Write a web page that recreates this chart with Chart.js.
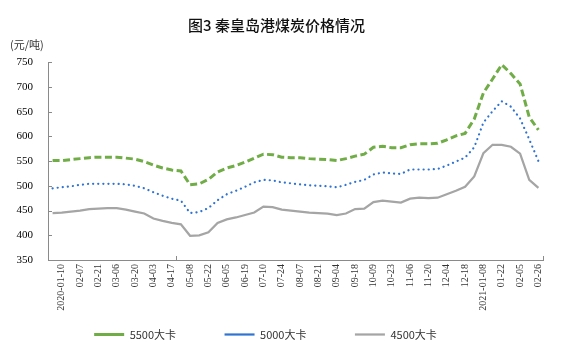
<!DOCTYPE html>
<html>
<head>
<meta charset="utf-8">
<script src="https://cdn.jsdelivr.net/npm/chart.js@4"></script>
<style>
html,body{margin:0;padding:0;background:#fff;overflow:hidden}
#wrap{width:561px;height:355px;position:relative}
</style>
</head>
<body>
<div id="wrap"><canvas id="c"></canvas></div>
<script>
// ---- data ----
const categories = [
  '2020-01-03','2020-01-10','01-17','02-07','02-14','02-21','02-28','03-06','03-13','03-20',
  '03-27','04-03','04-10','04-17','04-24','05-08','05-15','05-22','05-29','06-05',
  '06-12','06-19','07-03','07-10','07-17','07-24','07-31','08-07','08-14','08-21',
  '08-28','09-04','09-11','09-18','09-25','10-09','10-16','10-23','10-30','11-06',
  '11-13','11-20','11-27','12-04','12-11','12-18','12-25','2021-01-08','01-15','01-22',
  '01-29','02-05','02-19','02-26'
];
const price5500 = [
  551,551,553,555,557,558,558,558,556,554,
  549,542,536,532,530,502,504,513,528,536,
  541,548,556,564,563,558,557,557,555,554,
  553,551,555,560,564,578,580,577,577,583,
  585,585,586,593,601,606,635,688,716,745,
  727,706,639,613
];
const price5000 = [
  495,497,499,502,504,504,504,504,503,500,
  495,487,480,474,470,445,447,455,471,483,
  490,498,507,512,511,507,505,503,501,500,
  499,497,502,508,512,523,527,525,524,533,
  533,533,534,541,549,557,578,628,651,671,
  660,636,594,550
];
const price4500 = [
  445,446,448,450,453,454,455,455,452,448,
  444,434,429,425,422,399,400,406,425,432,
  436,441,446,458,457,452,450,448,446,445,
  444,441,444,453,454,467,470,468,466,474,
  476,475,476,483,490,498,519,566,583,583,
  579,565,512,496
];
const seriesNames = ['5500大卡', '5000大卡', '4500大卡'];
const titleText = '图3 秦皇岛港煤炭价格情况';
const unitText = '(元/吨)';
const yMin = 350, yMax = 750, yStep = 50;
const xTickMarkBoundaries = [13.5, 53.5];

// ---- chart ----
const AXIS = '#8a8a8a';
const CJK = '"Noto Sans CJK SC", "Noto Sans", sans-serif';

const innerTicks = {
  id: 'innerTicks',
  afterDraw(chart) {
    const {ctx, chartArea, scales} = chart;
    ctx.save();
    ctx.strokeStyle = AXIS;
    ctx.lineWidth = 1;
    ctx.beginPath();
    scales.y.ticks.forEach(t => {
      const y = Math.round(scales.y.getPixelForValue(t.value)) + 0.5;
      ctx.moveTo(chartArea.left, y);
      ctx.lineTo(chartArea.left + 4, y);
    });
    xTickMarkBoundaries.forEach(v => {
      const x = Math.round(scales.x.getPixelForValue(v)) + 0.5;
      ctx.moveTo(x, chartArea.bottom);
      ctx.lineTo(x, chartArea.bottom - 4);
    });
    ctx.stroke();
    ctx.restore();
  }
};

new Chart(document.getElementById('c'), {
  type: 'line',
  data: {
    labels: categories,
    datasets: [
      {
        label: seriesNames[0], data: price5500,
        borderColor: '#70AD47', backgroundColor: 'rgba(0,0,0,0)',
        borderWidth: 3, borderDash: [7, 3.5], borderCapStyle: 'butt',
        pointRadius: 0, tension: 0
      },
      {
        label: seriesNames[1], data: price5000,
        borderColor: '#2F73D3', backgroundColor: 'rgba(0,0,0,0)',
        borderWidth: 2.2, borderDash: [0.1, 5], borderCapStyle: 'round',
        pointRadius: 0, tension: 0
      },
      {
        label: seriesNames[2], data: price4500,
        borderColor: '#A5A5A5', backgroundColor: 'rgba(0,0,0,0)',
        borderWidth: 2.25, borderCapStyle: 'butt',
        pointRadius: 0, tension: 0
      }
    ]
  },
  options: {
    responsive: true,
    maintainAspectRatio: false,
    animation: false,
    layout: { padding: { left: 10, right: 18, top: 0, bottom: 5 } },
    scales: {
      x: {
        type: 'category',
        offset: true,
        grid: { display: false, drawTicks: false },
        border: { display: true, color: AXIS, width: 1 },
        ticks: {
          autoSkip: false, minRotation: 90, maxRotation: 90, padding: 4,
          color: '#333',
          font: { family: '"Liberation Serif", serif', size: 10 },
          callback: (v, i) => (i % 2 === 1 ? categories[i] : '')
        },
        afterFit: s => { s.height = 56; }
      },
      y: {
        min: yMin, max: yMax,
        grid: { display: false, drawTicks: false },
        border: { display: true, color: AXIS, width: 1 },
        ticks: {
          stepSize: yStep, padding: 15, color: '#000',
          font: { family: '"Liberation Serif", serif', size: 11 }
        },
        afterFit: s => { s.width = 38; }
      }
    },
    plugins: {
      title: {
        display: true, text: titleText, color: '#111',
        font: { family: CJK, size: 15, weight: '500' },
        padding: { top: 16, bottom: 4 }
      },
      subtitle: {
        display: true, text: unitText, align: 'start', color: '#333',
        font: { family: CJK, size: 11 },
        padding: { top: 0, bottom: 11 }
      },
      legend: {
        display: true, position: 'bottom',
        labels: {
          usePointStyle: true, pointStyle: 'line', pointStyleWidth: 30,
          padding: 13, color: '#333',
          font: { family: CJK, size: 11 },
          generateLabels(chart) {
            const items = Chart.defaults.plugins.legend.labels.generateLabels(chart);
            items.forEach((it, i) => {
              it.text += (i < items.length - 1) ? '\u3000\u3000\u3000 ' : '\u3000\u3000';
            });
            return items;
          }
        }
      },
      tooltip: { enabled: false }
    }
  },
  plugins: [innerTicks]
});
</script>
</body>
</html>
